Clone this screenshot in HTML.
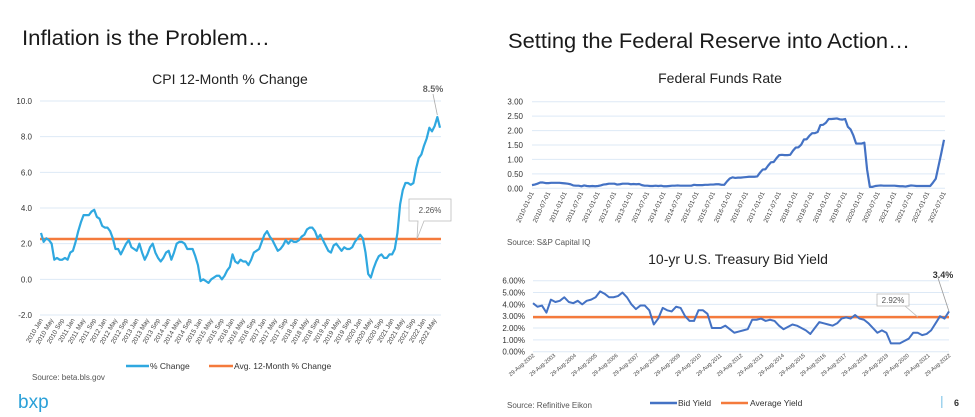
<!DOCTYPE html>
<html><head><meta charset="utf-8"><style>
body{margin:0;background:#fff;}
svg{display:block;font-family:"Liberation Sans",Arial,sans-serif;}
</style></head><body>
<svg id="s" width="975" height="417" viewBox="0 0 975 417" xmlns="http://www.w3.org/2000/svg">
<text x="22" y="45" font-size="21" fill="#1a1a1a" textLength="248" lengthAdjust="spacingAndGlyphs">Inflation is the Problem…</text>
<text x="508" y="48" font-size="21" fill="#1a1a1a" textLength="402" lengthAdjust="spacingAndGlyphs">Setting the Federal Reserve into Action…</text>
<text x="230" y="84" font-size="14" text-anchor="middle" fill="#222">CPI 12-Month % Change</text>
<text x="720" y="83" font-size="14" text-anchor="middle" fill="#222">Federal Funds Rate</text>
<text x="738" y="264" font-size="14" text-anchor="middle" fill="#222">10-yr U.S. Treasury Bid Yield</text>
<text x="32" y="380" font-size="8" fill="#555">Source: beta.bls.gov</text>
<text x="507" y="245" font-size="8" fill="#555">Source: S&amp;P Capital IQ</text>
<text x="507" y="408" font-size="8" fill="#555">Source: Refinitive Eikon</text>
<text x="18" y="408" font-size="19" fill="#2aa0d8">bxp</text>
<rect x="941" y="396" width="1.5" height="12" fill="#9fd3ee"/>
<text x="954" y="406" font-size="9" font-weight="bold" fill="#333">6</text>
<g id="g"></g>
</svg>
<script>
const cpiYTicks=[-2,0,2,4,6,8,10];
const cpiValues=[2.6,2.1,2.3,2.2,2.0,1.1,1.2,1.1,1.1,1.2,1.1,1.5,
1.6,2.1,2.7,3.2,3.6,3.6,3.6,3.8,3.9,3.5,3.4,3.0,
2.9,2.9,2.7,2.3,1.7,1.7,1.4,1.7,2.0,2.2,1.8,1.7,
1.6,2.0,1.5,1.1,1.4,1.8,2.0,1.5,1.2,1.0,1.2,1.5,
1.6,1.1,1.5,2.0,2.1,2.1,2.0,1.7,1.7,1.7,1.3,0.8,
-0.1,0.0,-0.1,-0.2,0.0,0.1,0.2,0.2,0.0,0.2,0.5,0.7,
1.4,1.0,0.9,1.1,1.0,1.0,0.8,1.1,1.5,1.6,1.7,2.1,
2.5,2.7,2.4,2.2,1.9,1.6,1.7,1.9,2.2,2.0,2.2,2.1,
2.1,2.2,2.4,2.5,2.8,2.9,2.9,2.7,2.3,2.5,2.2,1.9,
1.6,1.5,1.9,2.0,1.8,1.6,1.8,1.7,1.7,1.8,2.1,2.3,
2.5,2.3,1.5,0.3,0.1,0.6,1.0,1.3,1.4,1.2,1.2,1.4,
1.4,1.7,2.6,4.2,5.0,5.4,5.4,5.3,5.4,6.2,6.8,7.0,
7.5,7.9,8.5,8.3,8.6,9.1,8.5];
const cpiAvg=2.26;
const cpiLabelYears=[2010,2011,2012,2013,2014,2015,2016,2017,2018,2019,2020,2021,2022];
const cpiLabelMonths=["Jan","May","Sep"];
const fedYTicks=[0,0.5,1,1.5,2,2.5,3];
const fedValues=[0.11,0.13,0.16,0.2,0.2,0.18,0.18,0.19,0.19,0.19,0.19,0.18,
0.17,0.16,0.14,0.1,0.09,0.09,0.07,0.1,0.08,0.07,0.08,0.07,
0.08,0.1,0.13,0.14,0.16,0.16,0.16,0.13,0.14,0.16,0.16,0.16,
0.14,0.15,0.14,0.15,0.11,0.09,0.09,0.08,0.08,0.09,0.08,0.09,
0.07,0.07,0.08,0.09,0.09,0.1,0.09,0.09,0.09,0.09,0.09,0.12,
0.11,0.11,0.11,0.12,0.12,0.13,0.13,0.14,0.14,0.12,0.12,0.24,
0.34,0.38,0.36,0.37,0.37,0.38,0.39,0.4,0.4,0.4,0.41,0.54,
0.65,0.66,0.79,0.9,0.91,1.04,1.15,1.16,1.15,1.15,1.16,1.3,
1.41,1.42,1.51,1.69,1.7,1.82,1.91,1.91,1.95,2.19,2.2,2.27,
2.4,2.4,2.41,2.42,2.39,2.38,2.4,2.13,2.04,1.83,1.55,1.55,
1.55,1.58,0.65,0.05,0.05,0.08,0.09,0.1,0.09,0.09,0.09,0.09,
0.09,0.08,0.07,0.07,0.06,0.08,0.1,0.09,0.08,0.08,0.08,0.08,
0.08,0.08,0.2,0.33,0.77,1.21,1.68];
const fedLabels=[];for(let y=2010;y<=2022;y++){fedLabels.push(y+"-01-01");fedLabels.push(y+"-07-01");}
const tyYTicks=[0,1,2,3,4,5,6];
const tyValues=[4.1,3.8,3.9,3.3,4.4,4.2,4.3,4.6,4.2,4.1,4.3,4.0,4.3,4.4,4.6,5.1,4.9,4.6,4.6,4.7,5.0,4.6,4.0,3.6,3.9,3.9,3.5,2.3,2.8,3.7,3.5,3.4,3.8,3.7,3.0,2.6,2.6,3.5,3.5,3.2,2.0,2.0,2.0,2.2,1.9,1.6,1.7,1.8,1.9,2.7,2.7,2.8,2.6,2.7,2.6,2.2,1.9,2.1,2.3,2.2,2.0,1.8,1.5,2.0,2.5,2.4,2.3,2.2,2.4,2.8,2.9,2.8,3.1,2.8,2.7,2.4,2.0,1.6,1.8,1.6,0.7,0.7,0.7,0.9,1.1,1.6,1.6,1.4,1.5,1.8,2.4,3.0,2.8,3.4];
const tyAvg=2.92;
const tyLabels=[];for(let y=2002;y<=2022;y++)tyLabels.push("29-Aug-"+y);

const NS="http://www.w3.org/2000/svg",G=document.getElementById("g");
function mk(t,a,txt){const e=document.createElementNS(NS,t);for(const k in a)e.setAttribute(k,a[k]);if(txt!==undefined)e.textContent=txt;G.appendChild(e);return e;}
function lin(v,d0,d1,r0,r1){return r0+(v-d0)/(d1-d0)*(r1-r0);}

// CPI chart
const cx=i=>lin(i,0,cpiValues.length-1,41,440), cy=v=>lin(v,-2,10,315,101);
cpiYTicks.forEach(t=>{
 const l=mk("line",{x1:40,x2:441,y1:cy(t),y2:cy(t),stroke:"#dde9f6","stroke-width":1});
 
 
 const tx=mk("text",{x:32,y:cy(t)+3,"font-size":8,"text-anchor":"end",fill:"#333"},t.toFixed(1));
 
 
});
let k=0;
cpiLabelYears.forEach(y=>cpiLabelMonths.forEach((m,j)=>{
 const idx=(y-2010)*12+j*4; if(idx>cpiValues.length-1)return;
 const x=cx(idx);
 const tx=mk("text",{x:x+2,y:320,"font-size":6.5,"text-anchor":"end",fill:"#444",transform:`rotate(-60 ${x+2} 320)`},y+" "+m);
 
 
}));
const al=mk("line",{x1:40,x2:441,y1:cy(cpiAvg),y2:cy(cpiAvg),stroke:"#f47a3c","stroke-width":2.5});


const cp=mk("polyline",{points:cpiValues.map((v,i)=>cx(i)+","+cy(v)).join(" "),fill:"none",stroke:"#2fa8e0","stroke-width":2.2,"stroke-linejoin":"round"});


const last=cpiValues.length-1;
let e=mk("line",{x1:433,y1:94,x2:cx(last-1),y2:cy(cpiValues[last-1])-2,stroke:"#aaa","stroke-width":0.8});


e=mk("text",{x:433,y:92,"font-size":9,"font-weight":"bold","text-anchor":"middle",fill:"#666"},"8.5%");


e=mk("path",{d:`M409 199 H451 V221 H424 L417 ${cy(cpiAvg)} L418 221 H409 Z`,fill:"#fff",stroke:"#bbb","stroke-width":0.8});


e=mk("text",{x:430,y:213,"font-size":8,"text-anchor":"middle",fill:"#555"},"2.26%");


e=mk("line",{x1:126,x2:149,y1:366,y2:366,stroke:"#2fa8e0","stroke-width":2.5});


e=mk("text",{x:150,y:369,"font-size":8.5,fill:"#333"},"% Change");


e=mk("line",{x1:209,x2:233,y1:366,y2:366,stroke:"#f47a3c","stroke-width":2.5});


e=mk("text",{x:234,y:369,"font-size":8.5,fill:"#333"},"Avg. 12-Month % Change");



// Fed chart
const fx=i=>lin(i,0,fedValues.length-1,532,944), fy=v=>lin(v,0,3,188.3,101.7);
fedYTicks.forEach(t=>{
 const l=mk("line",{x1:532,x2:945,y1:fy(t),y2:fy(t),stroke:"#dde9f6","stroke-width":1});
 
 
 const tx=mk("text",{x:523,y:fy(t)+3,"font-size":8,"text-anchor":"end",fill:"#333"},t.toFixed(2));
 
 
});
fedLabels.forEach((lab,i)=>{
 const x=fx(i*6);
 const tx=mk("text",{x:x+2,y:193,"font-size":6.5,"text-anchor":"end",fill:"#444",transform:`rotate(-65 ${x+2} 193)`},lab);
 
 
});
e=mk("polyline",{points:fedValues.map((v,i)=>fx(i)+","+fy(v)).join(" "),fill:"none",stroke:"#4472c4","stroke-width":2.2,"stroke-linejoin":"round"});



// Treasury chart
const tx_=i=>lin(i,0,tyValues.length-1,533,949), ty=v=>lin(v,0,6,351.7,280.7);
tyYTicks.forEach(t=>{
 const l=mk("line",{x1:533,x2:949,y1:ty(t),y2:ty(t),stroke:"#dde9f6","stroke-width":1});
 
 
 const tx=mk("text",{x:525,y:ty(t)+3,"font-size":8,"text-anchor":"end",fill:"#333"},t.toFixed(2)+"%");
 
 
});
tyLabels.forEach((lab,i)=>{
 const x=lin(i,0,tyLabels.length-1,533,949);
 const tx=mk("text",{x:x+2,y:356,"font-size":5.5,"text-anchor":"end",fill:"#444",transform:`rotate(-40 ${x+2} 356)`},lab);
 
 
});
e=mk("line",{x1:533,x2:949,y1:ty(tyAvg),y2:ty(tyAvg),stroke:"#f47a3c","stroke-width":2.5});


e=mk("polyline",{points:tyValues.map((v,i)=>tx_(i)+","+ty(v)).join(" "),fill:"none",stroke:"#4472c4","stroke-width":2,"stroke-linejoin":"round"});


e=mk("line",{x1:938,y1:278,x2:949,y2:ty(tyValues[tyValues.length-1]),stroke:"#999","stroke-width":0.8});


e=mk("text",{x:943,y:278,"font-size":9,"font-weight":"bold","text-anchor":"middle",fill:"#333"},"3.4%");


e=mk("line",{x1:905,y1:306,x2:918,y2:ty(tyAvg),stroke:"#bbb","stroke-width":0.8});


e=mk("rect",{x:877,y:294,width:32,height:12,fill:"#fff",stroke:"#bbb","stroke-width":0.8});


e=mk("text",{x:893,y:303,"font-size":8,"text-anchor":"middle",fill:"#555"},"2.92%");


e=mk("line",{x1:650,x2:677,y1:403,y2:403,stroke:"#4472c4","stroke-width":2.5});


e=mk("text",{x:678,y:406,"font-size":8.5,fill:"#333"},"Bid Yield");


e=mk("line",{x1:721,x2:748,y1:403,y2:403,stroke:"#f47a3c","stroke-width":2.5});


e=mk("text",{x:750,y:406,"font-size":8.5,fill:"#333"},"Average Yield");


</script>
</body></html>
